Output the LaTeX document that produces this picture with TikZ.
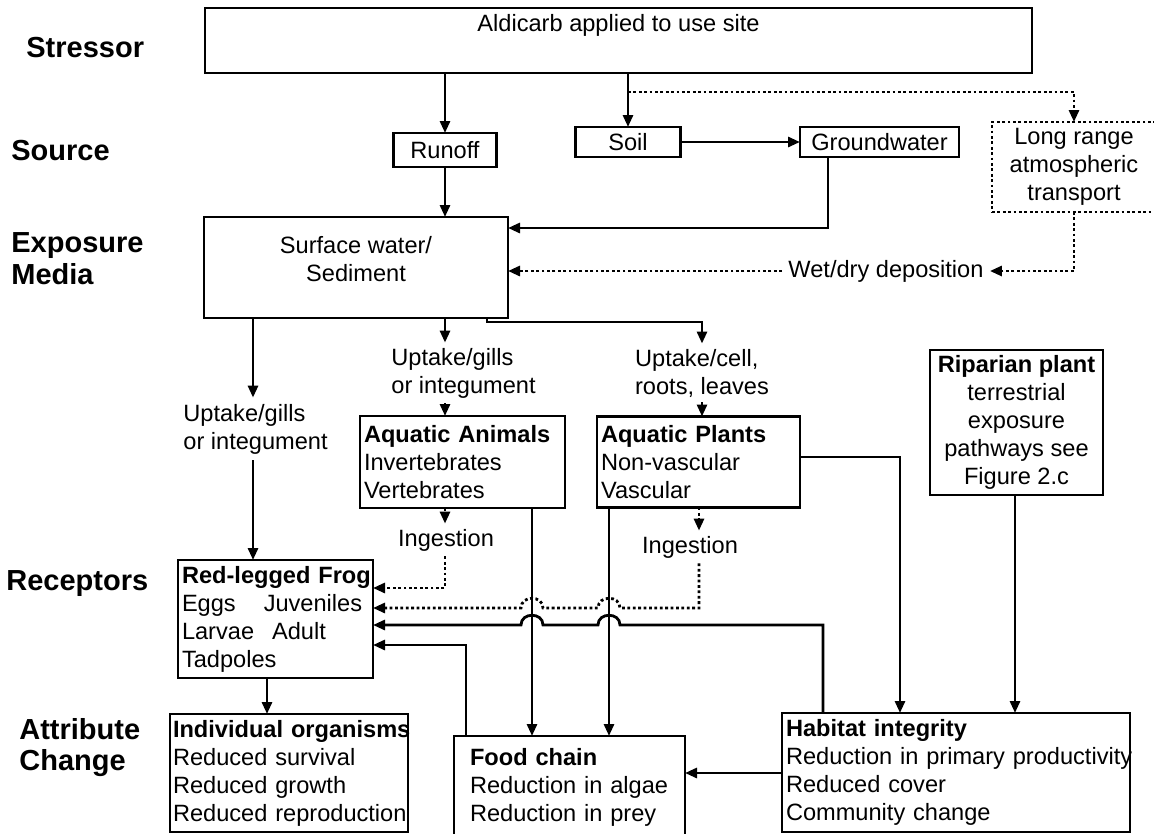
\documentclass[tikz,border=0pt]{standalone}
\usepackage{fontspec}
\setmainfont{Liberation Sans}
\usetikzlibrary{arrows.meta,calc}
\newcommand\fs{\fontsize{23.6}{28}\selectfont}
\newcommand\fl{\fontsize{29}{32}\selectfont\bfseries}
\begin{document}
\begin{tikzpicture}[x=1pt,y=-1pt,line width=2.8pt,
  every node/.style={font=\fs, inner sep=0pt},
  box/.style={draw, rectangle, line width=2.8pt, inner xsep=4pt, inner ysep=0pt, outer sep=0pt},
  arr/.style={-{Triangle[length=12pt,width=10pt]}, line width=2.8pt},
  dots/.style={dash pattern=on 2.8pt off 2.6pt, line width=2.8pt},
  darr/.style={dots, arr},
  lab/.style={font=\fl, anchor=west, inner sep=0pt, text height=21pt, text depth=6pt},
  lbl/.style={align=left, inner xsep=0pt, inner ysep=5pt},
]
\useasboundingbox (0,0) rectangle (1154,833);
\fill[white] (0,0) rectangle (1154,833);

% row headings
\node[lab] (lstr) at (25,50) {Stressor};
\node[lab] (lsrc) at (10,153) {Source};
\node[lab] (lexp) at (10,245) {Exposure};
\node[lab] (lmed) at (10,277) {Media};
\node[lab] (lrec) at (5,583) {Receptors};
\node[lab] (latt) at (18,732) {Attribute};
\node[lab] (lchg) at (18,763) {Change};

% stressor and sources
\node[box, minimum width=827pt, minimum height=65pt] (stress) at (618.5,40.5) {};
\node (stresst) at (618.5,25) {Aldicarb applied to use site};
\node[box, minimum width=103pt, minimum height=34pt] (runoff) at (445,150) {Runoff};
\node[box, minimum width=105pt, minimum height=30pt] (soil) at (628,142) {Soil};
\node[box, minimum width=159pt, minimum height=30pt] (gw) at (879.5,142) {Groundwater};
\node[box, dots, line width=2.2pt, minimum width=164pt, minimum height=90pt, align=center] (lr) at (1074,167) {Long range\\atmospheric\\transport};

% exposure media
\node[box, minimum width=304pt, minimum height=101pt] (surf) at (356,267.5) {};
\node[align=center] (surft) at (356,259) {Surface water/\\Sediment};
\node[inner xsep=5pt] (depo) at (886,271) {Wet/dry deposition};

% exposure routes
\node[lbl, anchor=west] (upl) at (182,429) {Uptake/gills\\or integument};
\node[lbl, anchor=west, inner ysep=4pt] (upm) at (390,373) {Uptake/gills\\or integument};
\node[lbl, inner ysep=4pt] (upr) at (702,373) {Uptake/cell,\\roots, leaves};

% receptors
\node[box, minimum width=205pt, minimum height=92pt, text width=197pt, align=left] (anim) at (462.5,462) {\textbf{Aquatic Animals}\\Invertebrates\\Vertebrates};
\node[box, minimum width=203pt, minimum height=91pt, text width=195pt, align=left] (plant) at (698.5,462) {\textbf{Aquatic Plants}\\Non-vascular\\Vascular};
\node[box, minimum width=173pt, minimum height=145pt, align=center] (rip) at (1016.5,422.5) {\textbf{Riparian plant}\\terrestrial\\exposure\\pathways see\\Figure 2.c};
\node[lbl, inner ysep=4pt] (inga) at (446,540) {Ingestion};
\node[lbl, inner ysep=4pt] (ingp) at (690,547) {Ingestion};
\node[box, minimum width=195pt, minimum height=118pt, text width=187pt, align=left] (frog) at (275.5,619) {\mbox{\textbf{Red-legged Frog}}\\Eggs\hspace{28pt}Juveniles\\Larvae\hspace{18pt}Adult\\Tadpoles};

% attribute change
\node[box, inner xsep=3pt, minimum width=238pt, minimum height=118pt, text width=232pt, align=left] (indiv) at (289,773) {\mbox{\textbf{Individual organisms}}\\\mbox{Reduced survival}\\\mbox{Reduced growth}\\\mbox{Reduced reproduction}};
\node[box, inner xsep=16pt, minimum width=231pt, minimum height=102pt, text width=199pt, align=left] (food) at (569.5,787) {\textbf{Food chain}\\\mbox{Reduction in algae}\\\mbox{Reduction in prey}};
\node[box, minimum width=348pt, minimum height=119pt, text width=340pt, align=left] (hab) at (956,772.5) {\textbf{Habitat integrity}\\\mbox{Reduction in primary productivity}\\Reduced cover\\Community change};

% guide coordinates for connector routes
\coordinate (xsplit) at (628,92);
\coordinate (gwx) at (828,0);
\coordinate (gwy) at (0,228);
\coordinate (c253) at (253,0);
\coordinate (c445) at (445,0);
\coordinate (c487) at (487,0);
\coordinate (yj) at (0,322);
\coordinate (c699) at (699,0);
\coordinate (c532) at (532,0);
\coordinate (c609) at (609,0);
\coordinate (c466) at (466,0);
\coordinate (c823) at (823,0);
\coordinate (c900) at (900,0);
\coordinate (c1015) at (1015,0);
\coordinate (c267) at (267,0);
\coordinate (y457) at (0,457);
\coordinate (y588) at (0,588);
\coordinate (y608) at (0,608);
\coordinate (y625) at (0,625);
\coordinate (y645) at (0,645);
\coordinate (y773) at (0,773);

% stressor to sources
\draw[arr] (stress.south -| runoff.north) -- (runoff.north);
\draw[arr] (stress.south -| soil.north) -- (soil.north);
\draw[darr] (xsplit) -| (lr.north);
\draw[arr] (soil.east) -- (gw.west);

% sources to exposure media
\draw[arr] (runoff.south) -- (surf.north -| runoff.south);
\draw[arr] (gw.south -| gwx) |- (surf.east |- gwy);
\draw[darr] (lr.south) |- (depo.east);
\draw[darr] (depo.west) -- (surf.east |- depo.west);

% exposure media to receptors
\draw[arr] (surf.south -| c253) -- (upl.north -| c253);
\draw[arr] (upl.south -| c253) -- (frog.north -| c253);
\draw[arr] (surf.south -| c445) -- (upm.north -| c445);
\draw[arr] (upm.south -| c445) -- (anim.north -| c445);
\draw[arr] (surf.south -| c487) -- (c487 |- yj) -| (upr.north);
\draw[arr] (upr.south) -- (plant.north -| upr.south);

% ingestion pathways to the frog
\draw[darr] (anim.south -| c445) -- (inga.north -| c445);
\draw[darr] (inga.south -| c445) |- (frog.east |- y588);
\draw[darr] (plant.south -| c699) -- (ingp.north -| c699);
\draw[darr] (ingp.south -| c699) -- (c699 |- y608)
  -- ($(c609 |- y608)+(11,0)$) .. controls +(0,-13) and +(0,-13) .. ++(-22,0)
  -- ($(c532 |- y608)+(11,0)$) .. controls +(0,-13) and +(0,-13) .. ++(-22,0)
  -- (frog.east |- y608);

% receptors to attribute change
\draw[arr] (anim.south -| c532) -- (food.north -| c532);
\draw[arr] (plant.south -| c609) -- (food.north -| c609);
\draw[arr] (plant.east |- y457) -| (hab.north -| c900);
\draw[arr] (rip.south -| c1015) -- (hab.north -| c1015);
\draw[arr] (frog.south -| c267) -- (indiv.north -| c267);
\draw[arr] (hab.west |- y773) -- (food.east |- y773);

% feedback from food chain and habitat to the frog
\draw[arr] (food.north -| c466) |- (frog.east |- y645);
\draw[arr] (hab.north -| c823) -- (c823 |- y625)
  -- ($(c609 |- y625)+(11,0)$) .. controls +(0,-13) and +(0,-13) .. ++(-22,0)
  -- ($(c532 |- y625)+(11,0)$) .. controls +(0,-13) and +(0,-13) .. ++(-22,0)
  -- (frog.east |- y625);
\end{tikzpicture}
\end{document}
